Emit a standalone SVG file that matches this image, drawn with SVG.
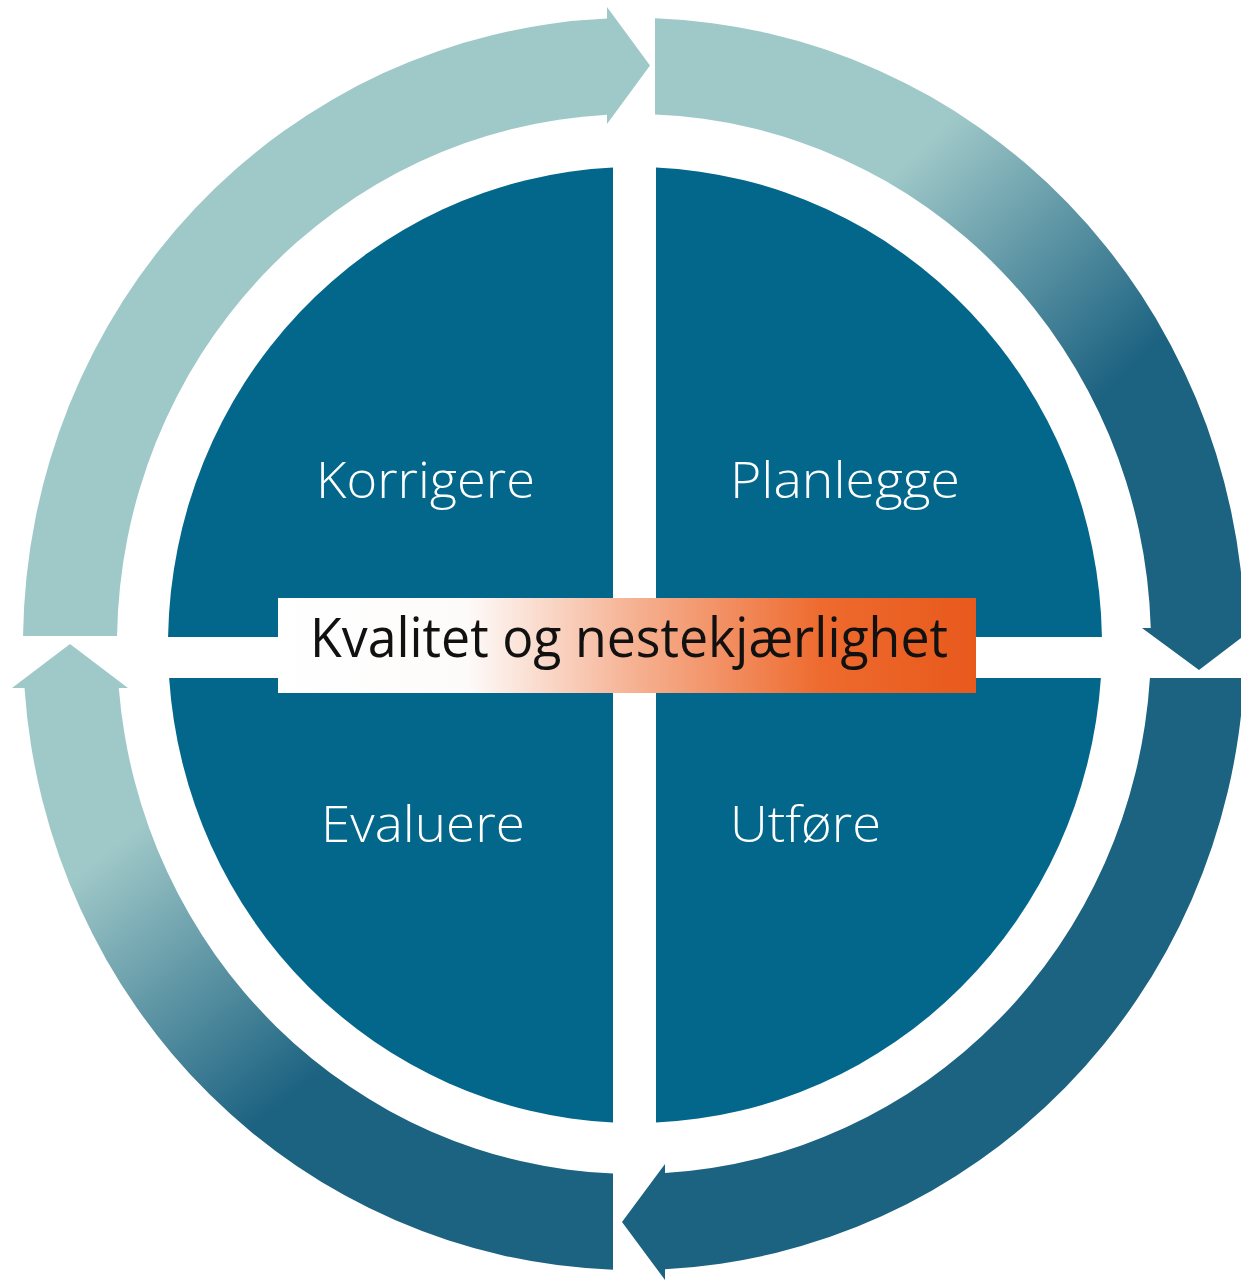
<svg xmlns="http://www.w3.org/2000/svg" width="1241" height="1280" viewBox="0 0 1241 1280">
  <defs>
    <style>
      .quad { fill: #02678A; }
      .qlabel { font-family: "Open Sans", "Liberation Sans", sans-serif; font-weight: 300; font-size: 50px; fill: #FFFFFF; }
      .light { fill: #9FC8C8; }
      .dark { fill: #1C6281; }
      .center-text { font-family: "Open Sans", "Liberation Sans", sans-serif; font-weight: 400; font-size: 54px; fill: #111111; }
    </style>
    <linearGradient id="gradTR" gradientUnits="userSpaceOnUse" x1="930" y1="140" x2="1140" y2="360">
      <stop offset="0" stop-color="#9FC8C8"/>
      <stop offset="1" stop-color="#1C6281"/>
    </linearGradient>
    <linearGradient id="gradBL" gradientUnits="userSpaceOnUse" x1="110" y1="850" x2="300" y2="1090">
      <stop offset="0" stop-color="#9FC8C8"/>
      <stop offset="1" stop-color="#1C6281"/>
    </linearGradient>
    <linearGradient id="gradBox" x1="0" y1="0" x2="1" y2="0">
      <stop offset="0" stop-color="#FFFFFF"/>
      <stop offset="0.27" stop-color="#FDFBFA"/>
      <stop offset="0.5" stop-color="#F6B496"/>
      <stop offset="0.78" stop-color="#EE6A2E"/>
      <stop offset="1" stop-color="#E8591C"/>
    </linearGradient>
  </defs>

  <rect width="1241" height="1280" fill="#FFFFFF"/>

  <g id="connectors">
    <path id="arrow-top-left" class="light" d="M23.05,636 A611,626 0 0 1 607,18.61 L607,7 L650,65.5 L607,124 L607,114.72 A517,530 0 0 0 117.06,636 Z"/>
    <path id="arrow-top-right" fill="url(#gradTR)" d="M655,18.37 A611,626 0 0 1 1244.8,628 L1254,628 L1199,670 L1142,628 L1150.76,628 A517,530 0 0 0 655,114.44 Z"/>
    <path id="arrow-bottom-right" class="dark" d="M1244.1,678 A611,626 0 0 1 665,1269.19 L665,1280 L622,1222 L665,1164 L665,1173.05 A517,530 0 0 0 1149.94,678 Z"/>
    <path id="arrow-bottom-left" fill="url(#gradBL)" d="M613,1269.63 A611,626 0 0 1 24.51,688 L12,688 L70,644 L128,688 L118.78,688 A517,530 0 0 0 613,1173.56 Z"/>
  </g>

  <g id="node-korrigere">
    <path class="quad" d="M613,637 L613,167.53 A467,478 0 0 0 168.07,637 Z"/>
    <text class="qlabel" x="316" y="498" textLength="219" lengthAdjust="spacingAndGlyphs">Korrigere</text>
  </g>
  <g id="node-planlegge">
    <path class="quad" d="M656,637 L656,167.48 A467,478 0 0 1 1101.93,637 Z"/>
    <text class="qlabel" x="730" y="498" textLength="230" lengthAdjust="spacingAndGlyphs">Planlegge</text>
  </g>
  <g id="node-utfore">
    <path class="quad" d="M656,678 L1100.88,678 A467,478 0 0 1 656,1122.52 Z"/>
    <text class="qlabel" x="730" y="842" textLength="151" lengthAdjust="spacingAndGlyphs">Utføre</text>
  </g>
  <g id="node-evaluere">
    <path class="quad" d="M613,678 L613,1122.47 A467,478 0 0 1 169.12,678 Z"/>
    <text class="qlabel" x="321" y="842" textLength="204" lengthAdjust="spacingAndGlyphs">Evaluere</text>
  </g>

  <g id="node-center">
    <rect x="278" y="598" width="698" height="95" fill="url(#gradBox)"/>
    <text class="center-text" x="310" y="657" textLength="638" lengthAdjust="spacingAndGlyphs">Kvalitet og nestekjærlighet</text>
  </g>
</svg>
